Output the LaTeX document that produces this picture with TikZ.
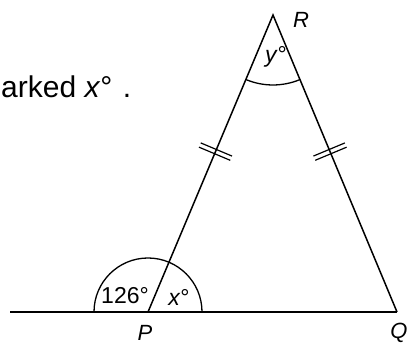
\documentclass[tikz,border=0pt]{standalone}
\usepackage{fontspec}
\setmainfont{Liberation Sans}
\usetikzlibrary{calc}
\tikzset{
  side/.style={line width=1.5pt},
  anglemark/.style={line width=1.3pt},
  hatch/.style={line width=1.2pt},
  vertex/.style={font=\fontsize{22}{22}\selectfont\itshape,inner sep=0pt},
  anglelabel/.style={font=\fontsize{23}{23}\selectfont,inner sep=0pt},
  question/.style={font=\fontsize{30}{30}\selectfont,inner sep=0pt}
}

\begin{document}
\begin{tikzpicture}[x=1pt,y=1pt]
\useasboundingbox (0,0) rectangle (409,347);

% Corners of the triangle, free end of the base line
\coordinate (P) at (148,35);
\coordinate (Q) at (397,35);
\coordinate (R) at (273,332);
\coordinate (L) at (10,35);

% Left-over part of the question text
\node[question,anchor=base west] (ask) at (1,249) {arked \textit{x}°\hspace{0.35em}.};

% Base line and the two sides
\draw[side] (L) -- (Q);
\draw[side,line join=miter] (P) -- (R) -- (Q);

% Angle marks
\draw[anglemark] ($(P)+(54,0)$) arc[start angle=0,end angle=180,radius=54];
\draw[anglemark] ($(R)!70pt!(P)$) arc[start angle=247.2,end angle=292.7,radius=70];

% Equal sides, double hatches
\coordinate (mPR) at ($(R)!0.46!(P)$);
\coordinate (mRQ) at ($(R)!0.46!(Q)$);
\foreach \s in {-2.3,2.3}
{
  \coordinate (a) at ($(mPR)!\s pt!(P)$);
  \draw[hatch] ($(a)!17pt!90:(P)$) -- ($(a)!17pt!-90:(P)$);
  \coordinate (b) at ($(mRQ)!\s pt!(Q)$);
  \draw[hatch] ($(b)!17pt!90:(Q)$) -- ($(b)!17pt!-90:(Q)$);
}

% Labels
\node[vertex] (Rlab) at (301,327) {R};
\node[vertex] (Plab) at (145,14) {P};
\node[vertex] (Qlab) at (399,14) {Q};
\node[anglelabel] (outer) at (125,51) {126°};
\node[anglelabel] (inner) at (179,50) {\textit{x}°};
\node[anglelabel] (top) at (276,290) {\textit{y}°};

\end{tikzpicture}
\end{document}
